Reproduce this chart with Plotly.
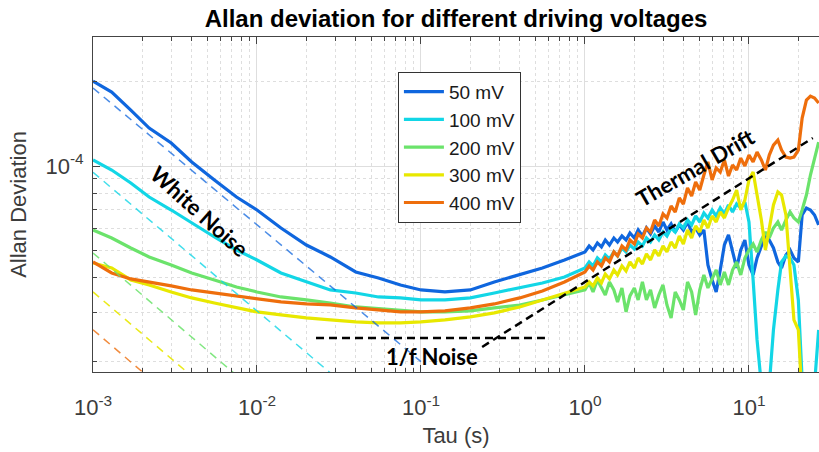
import plotly.graph_objects as go

# ---------------- data ----------------
tau_smooth = [0.001, 0.0013, 0.0017, 0.0022, 0.003, 0.004, 0.0055, 0.0075, 0.01, 0.014, 0.02,
              0.028, 0.04, 0.055, 0.075, 0.1, 0.14, 0.2, 0.28, 0.4, 0.55, 0.75]
tau_noisy = [1.00, 1.06, 1.12, 1.19, 1.26, 1.33, 1.41, 1.50, 1.58, 1.68, 1.78, 1.88, 2.00, 2.11,
             2.24, 2.37, 2.51, 2.66, 2.82, 2.99, 3.16, 3.35, 3.55, 3.76, 3.98, 4.22, 4.47, 4.73,
             5.01, 5.31, 5.62, 5.96, 6.31, 6.68, 7.08, 7.50, 7.94, 8.41, 8.91, 9.44, 10.0, 10.6,
             11.2, 11.9, 12.6, 13.3, 14.1, 15.0, 15.8, 16.8, 17.8, 18.8, 20.0, 21.1, 22.4, 23.7,
             25.1, 26.6]
tau = tau_smooth + tau_noisy

# Allan deviation, in units of 1e-5
adev_50mV = [20.11, 18.38, 15.85, 13.67, 12.08, 10.34, 8.913, 7.749, 6.964, 6.006, 5.222,
             4.732, 4.183, 3.982, 3.759, 3.607, 3.548, 3.607, 3.852, 4.081, 4.322, 4.616,
             4.930, 5.179, 5.012, 5.309, 5.137, 5.441, 5.222, 5.531, 5.352, 5.623, 5.441, 5.763,
             5.531, 5.907, 5.623, 6.006, 5.716, 6.105, 5.811, 6.309, 5.907, 6.207, 5.811, 6.156,
             5.907, 6.309, 5.811, 6.006, 5.670, 5.907, 4.431, 3.916, 3.548, 4.252, 5.222, 5.670,
             5.012, 4.322, 5.012, 5.441, 4.431, 4.081, 4.693, 5.222, 5.670, 5.441, 5.095, 4.541,
             4.322, 4.811, 5.012, 4.693, 4.541, 6.684, 7.080, 6.964, 6.684, 6.156]
adev_100mV = [10.51, 9.676, 8.696, 7.749, 6.964, 6.258, 5.577, 5.012, 4.616, 4.149, 3.852,
              3.607, 3.519, 3.405, 3.378, 3.322, 3.322, 3.378, 3.519, 3.667, 3.821, 4.014,
              4.322, 4.541, 4.394, 4.693, 4.541, 4.811, 4.655, 4.930, 4.771, 5.095, 4.930, 5.222,
              5.054, 5.352, 5.179, 5.531, 5.352, 5.670, 5.441, 5.811, 5.623, 6.006, 5.811, 6.207,
              6.006, 6.414, 6.156, 6.629, 6.309, 6.795, 6.521, 6.964, 6.629, 7.080, 6.739, 7.257,
              6.850, 7.317, 7.080, 7.438, 6.309, 3.916, 2.391, 1.652, 1.585, 1.652, 2.596, 3.607,
              4.541, 4.771, 4.693, 4.431, 3.322, 1.721, 1.585, 1.585, 1.652, 2.596]
adev_200mV = [5.907, 5.531, 5.095, 4.732, 4.431, 4.149, 3.916, 3.697, 3.548, 3.405, 3.322,
              3.241, 3.136, 3.085, 3.035, 3.010, 3.010, 3.035, 3.111, 3.188, 3.322, 3.462,
              3.607, 3.821, 3.548, 3.916, 3.667, 3.462, 3.852, 3.607, 3.268, 3.667, 3.010, 3.434,
              3.667, 3.322, 3.852, 3.322, 3.607, 3.111, 3.462, 3.759, 3.188, 2.865, 3.548, 3.322,
              3.060, 3.852, 3.548, 2.937, 3.607, 4.081, 3.667, 3.982, 4.252, 3.759, 4.183, 3.759,
              4.252, 4.541, 4.081, 4.693, 5.012, 5.265, 4.930, 5.441, 5.811, 5.531, 6.006, 6.309,
              5.907, 6.414, 6.850, 6.521, 6.309, 6.964, 7.878, 9.287, 10.67, 12.18]
adev_300mV = [4.504, 4.322, 3.916, 3.759, 3.548, 3.378, 3.241, 3.111, 3.010, 2.937, 2.865,
              2.818, 2.772, 2.750, 2.750, 2.772, 2.818, 2.889, 2.986, 3.136, 3.322, 3.519,
              3.697, 3.852, 3.728, 3.982, 3.821, 4.115, 3.949, 4.252, 4.081, 4.394, 4.217, 4.541,
              4.322, 4.693, 4.467, 4.850, 4.616, 5.012, 4.771, 5.179, 4.930, 5.352, 5.095, 5.623,
              5.265, 5.907, 5.531, 6.105, 5.811, 6.414, 6.006, 6.629, 6.309, 6.850, 6.521, 7.080,
              7.561, 8.208, 6.964, 7.561, 8.913, 9.518, 7.878, 6.414, 5.012, 5.907, 7.257, 8.074,
              7.878, 6.684, 4.322, 2.818, 2.596, 1.460]
adev_400mV = [4.541, 4.149, 3.949, 3.852, 3.728, 3.607, 3.519, 3.434, 3.350, 3.268, 3.215,
              3.188, 3.111, 3.060, 3.010, 3.010, 3.035, 3.111, 3.215, 3.378, 3.577, 3.852,
              4.183, 4.394, 4.252, 4.541, 4.394, 4.693, 4.541, 4.930, 4.771, 5.179, 5.012, 5.441,
              5.265, 5.716, 5.531, 6.006, 5.811, 6.414, 6.105, 6.739, 6.521, 7.197, 6.850, 7.686,
              7.317, 8.346, 7.813, 8.768, 8.208, 9.287, 10.34, 8.913, 9.842, 9.518, 10.51, 9.211,
              10.09, 9.676, 10.67, 10.00, 10.94, 10.34, 11.21, 10.51, 9.676, 10.94, 11.88, 12.38,
              11.40, 10.76, 10.67, 10.76, 11.40, 14.84, 17.21, 17.78, 17.49, 16.79]

labels = ["50 mV", "100 mV", "200 mV", "300 mV", "400 mV"]
series = [adev_50mV, adev_100mV, adev_200mV, adev_300mV, adev_400mV]
colors = ["#0F66DE", "#12D6E6", "#6BE36B", "#E8E800", "#EE6E0C"]
fit_colors = ["rgba(15,102,222,0.75)", "rgba(18,214,230,0.8)", "rgba(107,227,107,0.85)",
              "rgba(232,232,0,0.9)", "rgba(238,110,12,0.8)"]

# white-noise fits (tau endpoints, adev in 1e-5)
fit_tau = [0.001, 0.1]
fit_adev = [[19.0, 2.0], [9.5, 0.97], [4.89, 0.49], [3.55, 0.355], [2.6, 0.26]]

# guide lines
flicker_tau = [0.0229, 0.570]
flicker_adev = [2.43, 2.43]
drift_tau = [0.236, 24.5]
drift_adev = [2.257, 12.59]

scale = 1e-5

fig = go.Figure()

for lab, s, c in zip(labels, series, colors):
    fig.add_trace(go.Scatter(x=tau[:len(s)], y=[v * scale for v in s], mode="lines", name=lab,
                             line=dict(color=c, width=3.2)))

for fa, fc in zip(fit_adev, fit_colors):
    fig.add_trace(go.Scatter(x=fit_tau, y=[v * scale for v in fa], mode="lines", showlegend=False,
                             line=dict(color=fc, width=1.5, dash="8px,6px")))

fig.add_trace(go.Scatter(x=flicker_tau, y=[v * scale for v in flicker_adev], mode="lines",
                         showlegend=False, line=dict(color="black", width=2.5, dash="8px,5px")))
fig.add_trace(go.Scatter(x=drift_tau, y=[v * scale for v in drift_adev], mode="lines",
                         showlegend=False, line=dict(color="black", width=2.5, dash="8px,5px")))

ann_font = dict(family="Lato, 'Open Sans', sans-serif", size=22, color="black")
fig.add_annotation(x=-2.348, y=-4.164, xref="x", yref="y", text="<b>White Noise</b>",
                   showarrow=False, textangle=42, font=ann_font)
fig.add_annotation(x=0.671, y=-4.004, xref="x", yref="y", text="<b>Thermal Drift</b>",
                   showarrow=False, textangle=-30, font=ann_font)
fig.add_annotation(x=-0.933, y=-4.682, xref="x", yref="y", text="<b>1/f Noise</b>",
                   showarrow=False, font=ann_font)

xmajor = [1e-3, 1e-2, 1e-1, 1, 10]
xmajor_text = ["10<sup>-3</sup>", "10<sup>-2</sup>", "10<sup>-1</sup>", "10<sup>0</sup>", "10<sup>1</sup>"]
xminor = [m * 10.0 ** k for k in range(-3, 2) for m in range(2, 10)]
yminor = [m * 10.0 ** k for k in (-5, -4) for m in range(2, 10)]

grid_c = "#dedede"
fam = "'Liberation Sans', Arial, sans-serif"
axis_font = dict(family=fam, size=22, color="#3c3c3c")

fig.update_layout(
    width=819, height=452,
    margin=dict(l=93, r=0, t=37, b=80),
    paper_bgcolor="white", plot_bgcolor="white",
    title=dict(text="<b>Allan deviation for different driving voltages</b>", x=0.5, xref="paper",
               xanchor="center", y=0.958, yanchor="middle",
               font=dict(family=fam, size=24, color="black")),
    font=axis_font,
    showlegend=True,
    legend=dict(x=0.42, y=0.896, xanchor="left", yanchor="top", bgcolor="white",
                bordercolor="#333333", borderwidth=1, itemwidth=40,
                font=dict(family=fam, size=19, color="#1a1a1a")),
    xaxis=dict(type="log", range=[-3, 1.427], tickmode="array", tickvals=xmajor,
               ticktext=xmajor_text, ticks="inside", ticklen=7, tickcolor="#444",
               showline=True, linecolor="#444", linewidth=1, mirror="ticks",
               showgrid=True, gridcolor=grid_c, gridwidth=1, zeroline=False,
               tickfont=axis_font, ticklabelstandoff=16,
               title=dict(text="Tau (s)", font=axis_font, standoff=8),
               minor=dict(tickmode="array", tickvals=xminor, ticks="inside", ticklen=4,
                          tickcolor="#444", showgrid=True, gridcolor=grid_c, griddash="dot")),
    yaxis=dict(type="log", range=[-4.736, -3.539], tickmode="array", tickvals=[1e-4],
               ticktext=["10<sup>-4</sup>"], ticks="inside", ticklen=7, tickcolor="#444",
               showline=True, linecolor="#444", linewidth=1,
               showgrid=True, gridcolor=grid_c, gridwidth=1, zeroline=False,
               tickfont=axis_font, ticklabelstandoff=4,
               title=dict(text="Allan Deviation", font=axis_font, standoff=12),
               minor=dict(tickmode="array", tickvals=yminor, ticks="inside", ticklen=4,
                          tickcolor="#444", showgrid=True, gridcolor=grid_c, griddash="dot")),
)

fig.write_html("out.html")
